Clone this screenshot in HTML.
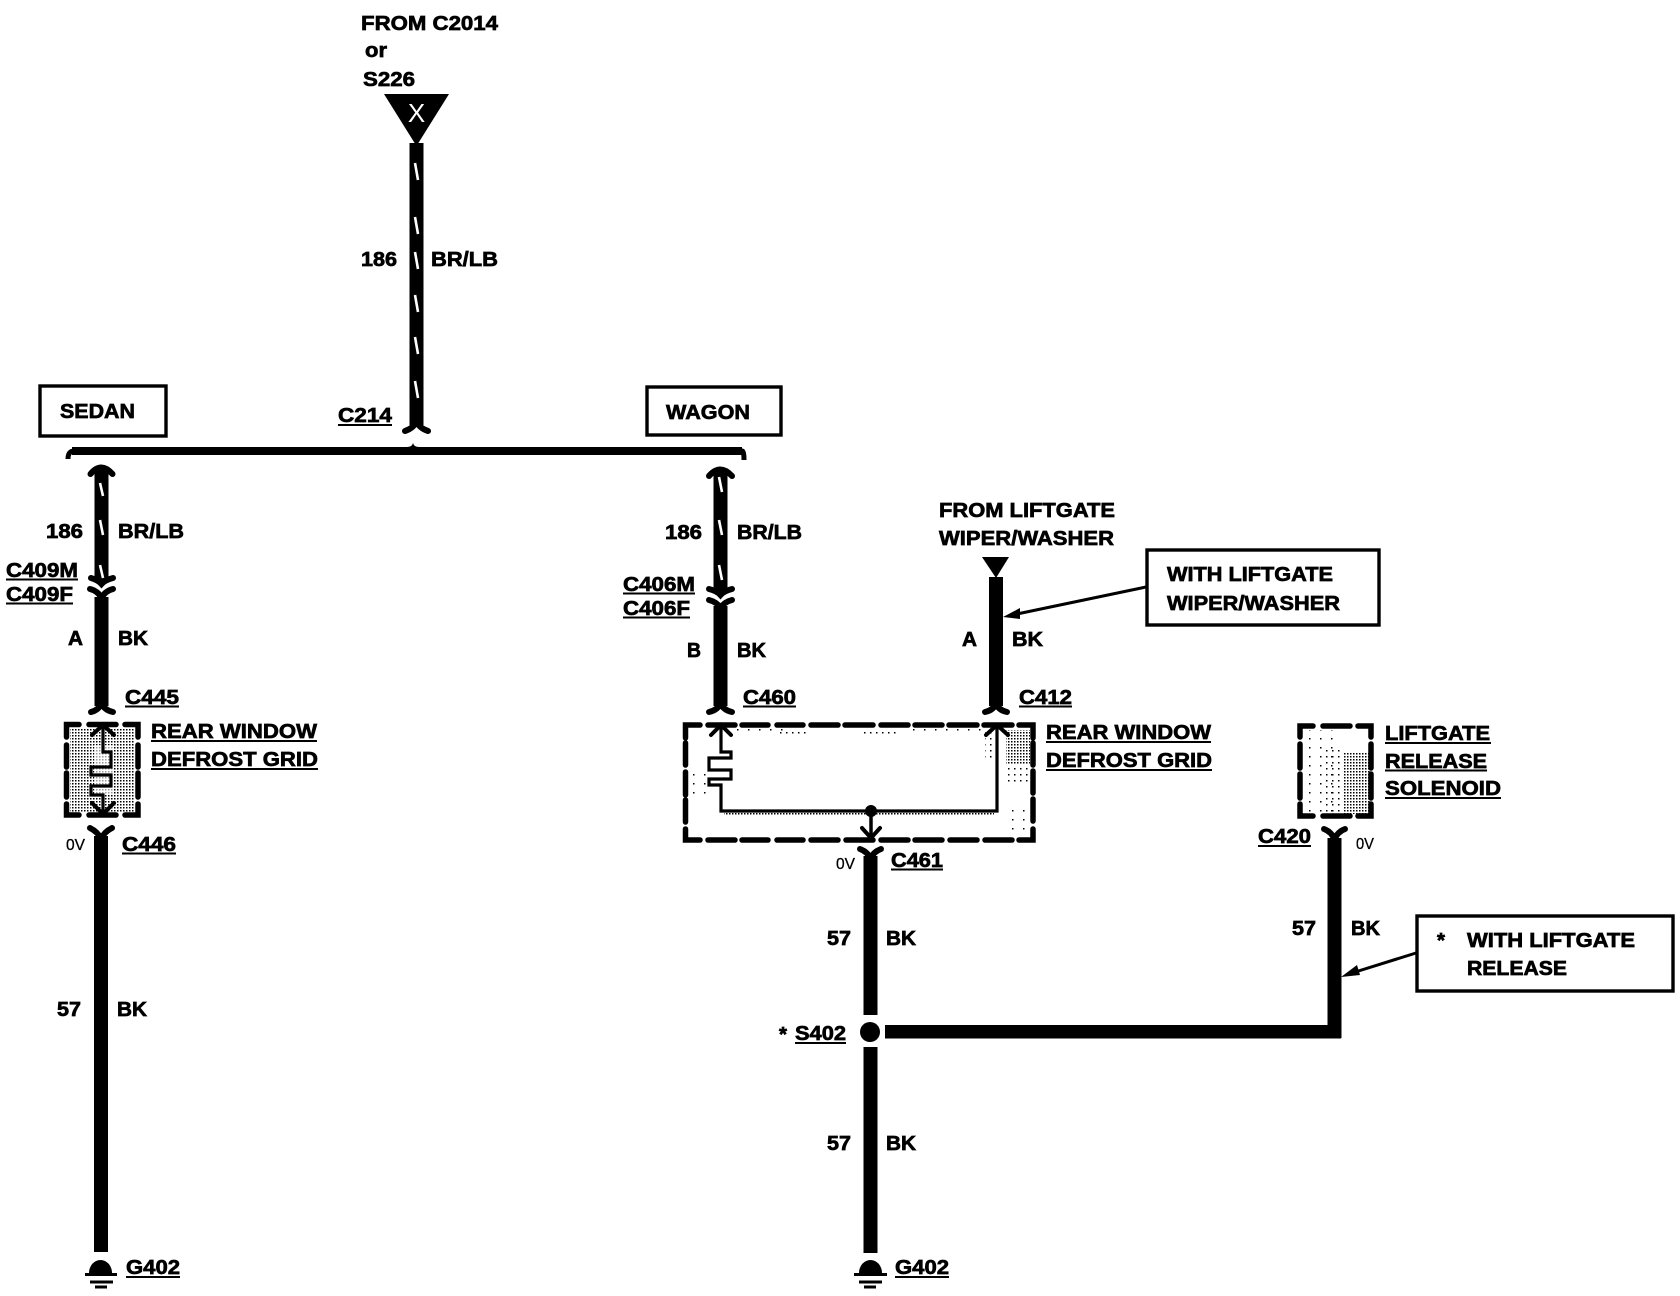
<!DOCTYPE html>
<html><head><meta charset="utf-8"><title>Wiring diagram</title>
<style>
html,body{margin:0;padding:0;background:#fff}
svg{display:block}
text{font-family:"Liberation Sans",sans-serif;font-weight:700;font-size:20.5px;fill:#000;stroke:#000;stroke-width:.7}
text.v{font-weight:400;font-size:16px;stroke-width:.3}
.u{stroke:#000;stroke-width:2;fill:none}
.w{stroke:#000;stroke-width:14;fill:none}
.f{stroke:#000;stroke-width:6;fill:none;stroke-linecap:round}
.d{stroke:#000;stroke-width:5.5;fill:none;stroke-linecap:round;stroke-linejoin:miter}
.t{stroke:#000;stroke-width:3.2;fill:none;stroke-linejoin:miter}
.h{stroke:#000;stroke-width:4;fill:none;stroke-linecap:round}
.n{stroke:#fff;stroke-width:2.6;fill:none}
.b{stroke:#000;stroke-width:3.4;fill:#fff}
</style></head><body>
<svg xmlns="http://www.w3.org/2000/svg" width="1680" height="1296" viewBox="0 0 1680 1296">
<defs>
<pattern id="s" width="3" height="3" patternUnits="userSpaceOnUse"><rect width="1.5" height="1.5" fill="#000"/></pattern>
<pattern id="s2" width="6" height="6" patternUnits="userSpaceOnUse"><rect width="1.5" height="1.5" fill="#000"/></pattern>
<pattern id="s3" width="11" height="9" patternUnits="userSpaceOnUse"><rect width="1.5" height="1.5" fill="#000"/></pattern>
</defs>
<rect width="1680" height="1296" fill="#fff"/>

<!-- stipple -->
<rect x="70" y="728" width="64" height="84" fill="url(#s)"/>
<rect x="94" y="745" width="20" height="50" fill="#fff" opacity=".6"/>
<rect x="725" y="729" width="60" height="8" fill="url(#s3)"/>
<rect x="780" y="729" width="30" height="9" fill="url(#s2)"/>
<rect x="860" y="729" width="40" height="9" fill="url(#s2)"/>
<rect x="905" y="729" width="80" height="6" fill="url(#s3)"/>
<rect x="985" y="730" width="12" height="30" fill="url(#s2)"/>
<rect x="1006" y="730" width="24" height="34" fill="url(#s)"/>
<rect x="1004" y="764" width="26" height="20" fill="url(#s2)"/>
<rect x="1012" y="806" width="18" height="30" fill="url(#s3)"/>
<rect x="690" y="770" width="24" height="24" fill="url(#s3)"/>
<rect x="724" y="813" width="270" height="1.500" fill="url(#s)"/>
<rect x="1344" y="752" width="26" height="62" fill="url(#s)"/>
<rect x="1322" y="750" width="22" height="62" fill="url(#s2)"/>
<rect x="1304" y="730" width="30" height="84" fill="url(#s3)"/>

<!-- top wire -->
<polygon points="384,94 449,94 416.5,146" fill="#000"/>
<text x="416.5" y="122" text-anchor="middle" style="fill:#fff;stroke:none;font-weight:400;font-size:26px">X</text>
<path class="w" d="M416.5 143V425"/>
<path class="f" d="M405 431Q414 428 416.5 421Q419 428 428 431"/>
<path class="n" d="M415 163L418 180M415 217L418 234M415 252L418 269M415 295L418 312M415 337L418 354M415 381L418 398"/>

<!-- bus -->
<path d="M68 459Q68 451 74 451H742Q744 451 744 460" fill="none" stroke="#000" stroke-width="5"/>
<rect x="72" y="447" width="670" height="8" fill="#000"/>
<path d="M407 447Q412 447 413 443Q414 447 419 447V452H407Z" fill="#000"/>

<!-- boxes -->
<rect class="b" x="40" y="386" width="126" height="50"/>
<text x="60" y="418" textLength="75" lengthAdjust="spacingAndGlyphs">SEDAN</text>
<rect class="b" x="647" y="387" width="134" height="48"/>
<text x="666" y="419" textLength="84" lengthAdjust="spacingAndGlyphs">WAGON</text>
<rect class="b" x="1147" y="550" width="232" height="75"/>
<text x="1167" y="581" textLength="166" lengthAdjust="spacingAndGlyphs">WITH LIFTGATE</text>
<text x="1167" y="610" textLength="173" lengthAdjust="spacingAndGlyphs">WIPER/WASHER</text>
<rect class="b" x="1417" y="916" width="256" height="75"/>
<text x="1437" y="947">*</text>
<text x="1467" y="947" textLength="168" lengthAdjust="spacingAndGlyphs">WITH LIFTGATE</text>
<text x="1467" y="975" textLength="100" lengthAdjust="spacingAndGlyphs">RELEASE</text>

<!-- leaders -->
<path d="M1146 587L1012 615" stroke="#000" stroke-width="3" fill="none"/>
<polygon points="1003,617 1020,608 1020,619" fill="#000"/>
<path d="M1416 953L1352 973" stroke="#000" stroke-width="3" fill="none"/>
<polygon points="1341,977 1357,965 1360,975" fill="#000"/>

<!-- left wires -->
<path class="w" d="M101.500 470V582"/>
<path class="f" d="M90.500 474Q101 461 112.500 474"/>
<path class="f" d="M91 578Q98 580 101.500 584Q105 580 113 578"/>
<path class="n" d="M100 483L103 496M100 520L103 535M100 565L103 578"/>
<path class="f" d="M90 589Q98 591 101.500 598Q105 591 113 589"/>
<path class="w" d="M101.500 597V706"/>
<path class="f" d="M91 712Q99 710 101.500 703Q104 710 113 712"/>
<path class="d" d="M66.500 737V724.500H79M89 724.500H116M125 724.500H138V737M66.500 745V767M66.500 773V797M66.500 804V815H79M89 815H116M125 815H138V804M138 745V767M138 773V797"/>
<path class="t" d="M103 726V752H111V767H91V775H111V786H91V795H103V815"/>
<path class="h" d="M92 735L103 725L114 735M92 803L103 814L114 803"/>
<path class="f" d="M90 828Q98 832 101 839Q104 832 112 828"/>
<path class="w" d="M101 836V1252"/>
<path d="M89 1273A11.500 13 0 0 1 112 1273Z" fill="#000"/>
<path d="M85 1274.500H117M90 1282H113M95 1287H107" stroke="#000" stroke-width="3" fill="none"/>
<path d="M859 1273A11.500 13 0 0 1 882 1273Z" fill="#000"/>
<path d="M854 1274.500H887M859 1282H882M864 1287H876" stroke="#000" stroke-width="3" fill="none"/>

<!-- wagon wires -->
<path class="w" d="M720.500 472V592"/>
<path class="f" d="M709 476Q720 463 732 476"/>
<path class="f" d="M709 589Q717 591 720.500 595Q724 591 732 589"/>
<path class="n" d="M719 477L722 492M719 520L722 535M719 565L722 580"/>
<path class="f" d="M709 600Q717 602 720.500 608Q724 602 732 600"/>
<path class="w" d="M720.500 606V706"/>
<path class="f" d="M709 712Q718 710 720.500 703Q723 710 732 712"/>
<path class="d" d="M685.500 738V725H700M708 725H735M742 725H768M777 725H803M811 725H838M845 725H873M881 725H908M915 725H942M949 725H977M984 725H1012M1019 725H1033V738M685.500 743V765M685.500 772V795M685.500 800V822M685.500 829V840H700M708 840H735M742 840H768M777 840H803M811 840H838M846 840H873M881 840H908M915 840H942M950 840H977M985 840H1012M1019 840H1033V829M1033 743V765M1033 771V793M1033 799V821"/>
<path class="t" d="M721 727V752H731V758H709V770H731V779H709V785H721V811H997V727"/>
<path class="h" d="M711 735L721 725L731 735M986 735L997 725L1008 735M862 828L871 838L880 828"/>
<circle cx="871" cy="811" r="6" fill="#000"/>
<path d="M871 811V838" stroke="#000" stroke-width="3.500"/>
<path class="f" d="M860 849Q868 852 870.500 859Q873 852 881 849"/>
<path class="w" d="M870.500 856V1015M870.500 1047V1253"/>
<circle cx="870" cy="1032" r="10" fill="#000"/>

<!-- right wire -->
<polygon points="982,557 1009,557 996,578" fill="#000"/>
<path class="w" d="M996 577V706"/>
<path class="f" d="M985 712Q994 710 996 703Q998 710 1007 712"/>

<!-- liftgate -->
<path class="d" d="M1300 737V726H1313M1323 726H1350M1358 726H1371V737M1300 744V768M1300 774V798M1300 804V816H1313M1323 816H1350M1358 816H1371V804M1371 744V768M1371 774V798"/>
<path class="f" d="M1324 829Q1332 832 1334.500 840Q1337 832 1345 829"/>
<path class="w" d="M1334.500 838V1038"/>
<rect x="885" y="1025" width="456" height="13.500" fill="#000"/>

<!-- labels -->
<text x="361" y="30" textLength="137" lengthAdjust="spacingAndGlyphs">FROM C2014</text>
<text x="365" y="57" textLength="22" lengthAdjust="spacingAndGlyphs">or</text>
<text x="363" y="86" textLength="52" lengthAdjust="spacingAndGlyphs">S226</text>
<text x="361" y="266" textLength="36" lengthAdjust="spacingAndGlyphs">186</text>
<text x="431" y="266" textLength="67" lengthAdjust="spacingAndGlyphs">BR/LB</text>
<text x="338" y="422" textLength="54" lengthAdjust="spacingAndGlyphs">C214</text><path class="u" d="M338 425H392"/>

<text x="46" y="538" textLength="37" lengthAdjust="spacingAndGlyphs">186</text>
<text x="118" y="538" textLength="66" lengthAdjust="spacingAndGlyphs">BR/LB</text>
<text x="6" y="577" textLength="72" lengthAdjust="spacingAndGlyphs">C409M</text><path class="u" d="M6 579.500H78"/>
<text x="6" y="601" textLength="67" lengthAdjust="spacingAndGlyphs">C409F</text><path class="u" d="M6 603.500H73"/>
<text x="68" y="645" textLength="15" lengthAdjust="spacingAndGlyphs">A</text>
<text x="118" y="645" textLength="30" lengthAdjust="spacingAndGlyphs">BK</text>
<text x="125" y="704" textLength="54" lengthAdjust="spacingAndGlyphs">C445</text><path class="u" d="M125 706.500H179"/>
<text x="151" y="738" textLength="166" lengthAdjust="spacingAndGlyphs">REAR WINDOW</text><path class="u" d="M151 741H317"/>
<text x="151" y="766" textLength="167" lengthAdjust="spacingAndGlyphs">DEFROST GRID</text><path class="u" d="M151 769H318"/>
<text class="v" x="66" y="850" textLength="19" lengthAdjust="spacingAndGlyphs">0V</text>
<text x="122" y="851" textLength="54" lengthAdjust="spacingAndGlyphs">C446</text><path class="u" d="M122 853.500H176"/>
<text x="57" y="1016" textLength="24" lengthAdjust="spacingAndGlyphs">57</text>
<text x="117" y="1016" textLength="30" lengthAdjust="spacingAndGlyphs">BK</text>
<text x="126" y="1274" textLength="54" lengthAdjust="spacingAndGlyphs">G402</text><path class="u" d="M126 1277H180"/>

<text x="665" y="539" textLength="37" lengthAdjust="spacingAndGlyphs">186</text>
<text x="737" y="539" textLength="65" lengthAdjust="spacingAndGlyphs">BR/LB</text>
<text x="623" y="591" textLength="72" lengthAdjust="spacingAndGlyphs">C406M</text><path class="u" d="M623 593.500H695"/>
<text x="623" y="615" textLength="67" lengthAdjust="spacingAndGlyphs">C406F</text><path class="u" d="M623 617.500H690"/>
<text x="687" y="657" textLength="14" lengthAdjust="spacingAndGlyphs">B</text>
<text x="737" y="657" textLength="29" lengthAdjust="spacingAndGlyphs">BK</text>
<text x="743" y="704" textLength="53" lengthAdjust="spacingAndGlyphs">C460</text><path class="u" d="M743 706.500H796"/>
<text x="1019" y="704" textLength="53" lengthAdjust="spacingAndGlyphs">C412</text><path class="u" d="M1019 706.500H1072"/>
<text x="939" y="517" textLength="176" lengthAdjust="spacingAndGlyphs">FROM LIFTGATE</text>
<text x="939" y="545" textLength="175" lengthAdjust="spacingAndGlyphs">WIPER/WASHER</text>
<text x="962" y="646" textLength="15" lengthAdjust="spacingAndGlyphs">A</text>
<text x="1012" y="646" textLength="31" lengthAdjust="spacingAndGlyphs">BK</text>
<text x="1046" y="739" textLength="165" lengthAdjust="spacingAndGlyphs">REAR WINDOW</text><path class="u" d="M1046 742H1211"/>
<text x="1046" y="767" textLength="166" lengthAdjust="spacingAndGlyphs">DEFROST GRID</text><path class="u" d="M1046 770H1212"/>
<text class="v" x="836" y="869" textLength="19" lengthAdjust="spacingAndGlyphs">0V</text>
<text x="891" y="867" textLength="52" lengthAdjust="spacingAndGlyphs">C461</text><path class="u" d="M891 869.500H943"/>
<text x="827" y="945" textLength="24" lengthAdjust="spacingAndGlyphs">57</text>
<text x="886" y="945" textLength="30" lengthAdjust="spacingAndGlyphs">BK</text>
<text x="779" y="1041">*</text>
<text x="795" y="1040" textLength="51" lengthAdjust="spacingAndGlyphs">S402</text><path class="u" d="M795 1043H846"/>
<text x="827" y="1150" textLength="24" lengthAdjust="spacingAndGlyphs">57</text>
<text x="886" y="1150" textLength="30" lengthAdjust="spacingAndGlyphs">BK</text>
<text x="895" y="1274" textLength="54" lengthAdjust="spacingAndGlyphs">G402</text><path class="u" d="M895 1277H949"/>

<text x="1385" y="740" textLength="105" lengthAdjust="spacingAndGlyphs">LIFTGATE</text><path class="u" d="M1385 743H1491"/>
<text x="1385" y="768" textLength="102" lengthAdjust="spacingAndGlyphs">RELEASE</text><path class="u" d="M1385 770.500H1487"/>
<text x="1385" y="795" textLength="116" lengthAdjust="spacingAndGlyphs">SOLENOID</text><path class="u" d="M1385 798H1501"/>
<text x="1258" y="843" textLength="53" lengthAdjust="spacingAndGlyphs">C420</text><path class="u" d="M1258 846H1311"/>
<text class="v" x="1356" y="849" textLength="18" lengthAdjust="spacingAndGlyphs">0V</text>
<text x="1292" y="935" textLength="24" lengthAdjust="spacingAndGlyphs">57</text>
<text x="1351" y="935" textLength="29" lengthAdjust="spacingAndGlyphs">BK</text>
</svg>
</body></html>
